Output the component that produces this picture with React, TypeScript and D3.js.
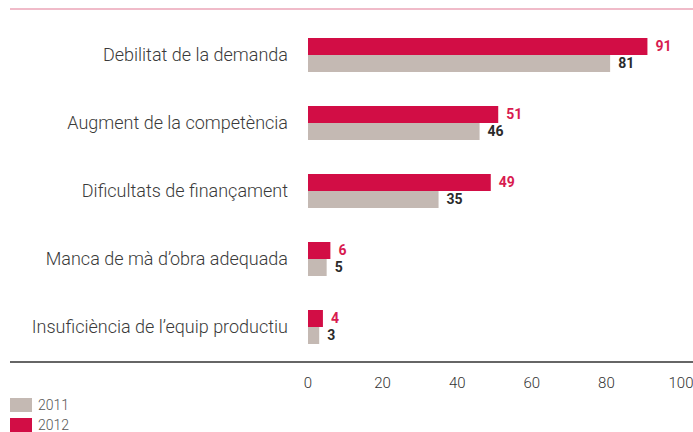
import React, { useRef, useEffect } from 'react';
import * as d3 from 'd3';

const categories = [
  'Debilitat de la demanda',
  'Augment de la competència',
  'Dificultats de finançament',
  "Manca de mà d’obra adequada",
  'Insuficiència de l’equip productiu',
];
const values2012 = [91, 51, 49, 6, 4];
const values2011 = [81, 46, 35, 5, 3];
const seriesKeys = ['2012', '2011'];
const legendKeys = ['2011', '2012'];
const xTicks = [0, 20, 40, 60, 80, 100];

const RED = '#d20d45';
const GREY = '#c4b9b3';

const App = () => {
  const svgRef = useRef<SVGSVGElement>(null);

  useEffect(() => {
    const width = 693;
    const height = 432;
    const svg = d3.select(svgRef.current);
    svg.selectAll('*').remove();
    svg.attr('width', width).attr('height', height);

    const font = 'Roboto, "DejaVu Sans", sans-serif';

    const x = d3.scaleLinear().domain([0, 100]).range([308, 681]);
    const y = d3.scaleBand().domain(categories).range([21, 361]);
    const inner = d3.scaleBand().domain(seriesKeys).range([17, 51]);
    const color = d3.scaleOrdinal<string>().domain(['2011', '2012']).range([GREY, RED]);

    const rows = categories.map((c, i) => ({ cat: c, '2012': values2012[i], '2011': values2011[i] }));

    // top rule and bottom axis rule
    svg.append('line')
      .attr('x1', 10).attr('x2', width).attr('y1', 9).attr('y2', 9)
      .attr('stroke', '#e27893').attr('stroke-width', 1.2);
    svg.append('line')
      .attr('x1', 10).attr('x2', width).attr('y1', 362).attr('y2', 362)
      .attr('stroke', '#333').attr('stroke-width', 1.3);

    const groups = svg.selectAll('.grp')
      .data(rows)
      .enter().append('g')
      .attr('class', 'grp')
      .attr('transform', d => `translate(0,${y(d.cat)})`);

    groups.append('text')
      .attr('x', 288)
      .attr('y', 34)
      .attr('dy', '0.35em')
      .attr('text-anchor', 'end')
      .style('font-family', font)
      .style('font-weight', 300)
      .style('font-size', '18px')
      .attr('fill', '#3a3a3a')
      .text(d => d.cat);

    seriesKeys.forEach(k => {
      groups.append('rect')
        .attr('x', x(0))
        .attr('y', inner(k))
        .attr('width', d => x(d[k]) - x(0))
        .attr('height', inner.bandwidth())
        .attr('fill', color(k));

      groups.append('text')
        .attr('x', d => x(d[k]) + 8)
        .attr('y', (inner(k) || 0) + inner.bandwidth() / 2)
        .attr('dy', '0.35em')
        .style('font-family', font)
        .style('font-weight', 700)
        .style('font-size', '14px')
        .attr('fill', k === '2012' ? '#d81b50' : '#2b2b2b')
        .text(d => d[k]);
    });

    // tick labels
    svg.append('g')
      .selectAll('text')
      .data(xTicks)
      .enter().append('text')
      .attr('x', d => x(d))
      .attr('y', 383)
      .attr('dy', '0.35em')
      .attr('text-anchor', 'middle')
      .style('font-family', font)
      .style('font-weight', 300)
      .style('font-size', '15px')
      .attr('fill', '#333')
      .text(d => d);

    // legend
    const legend = svg.append('g')
      .selectAll('g')
      .data(legendKeys)
      .enter().append('g')
      .attr('transform', (d, i) => `translate(10,${398 + i * 20})`);
    legend.append('rect')
      .attr('width', 22).attr('height', 14)
      .attr('fill', d => color(d));
    legend.append('text')
      .attr('x', 28).attr('y', 7).attr('dy', '0.35em')
      .style('font-family', font)
      .style('font-weight', 300)
      .style('font-size', '14px')
      .attr('fill', '#555')
      .text(d => d);
  }, []);

  return (
    <svg ref={svgRef} style={{ position: 'absolute', left: 0, top: 0 }}></svg>
  );
};

export default App;
